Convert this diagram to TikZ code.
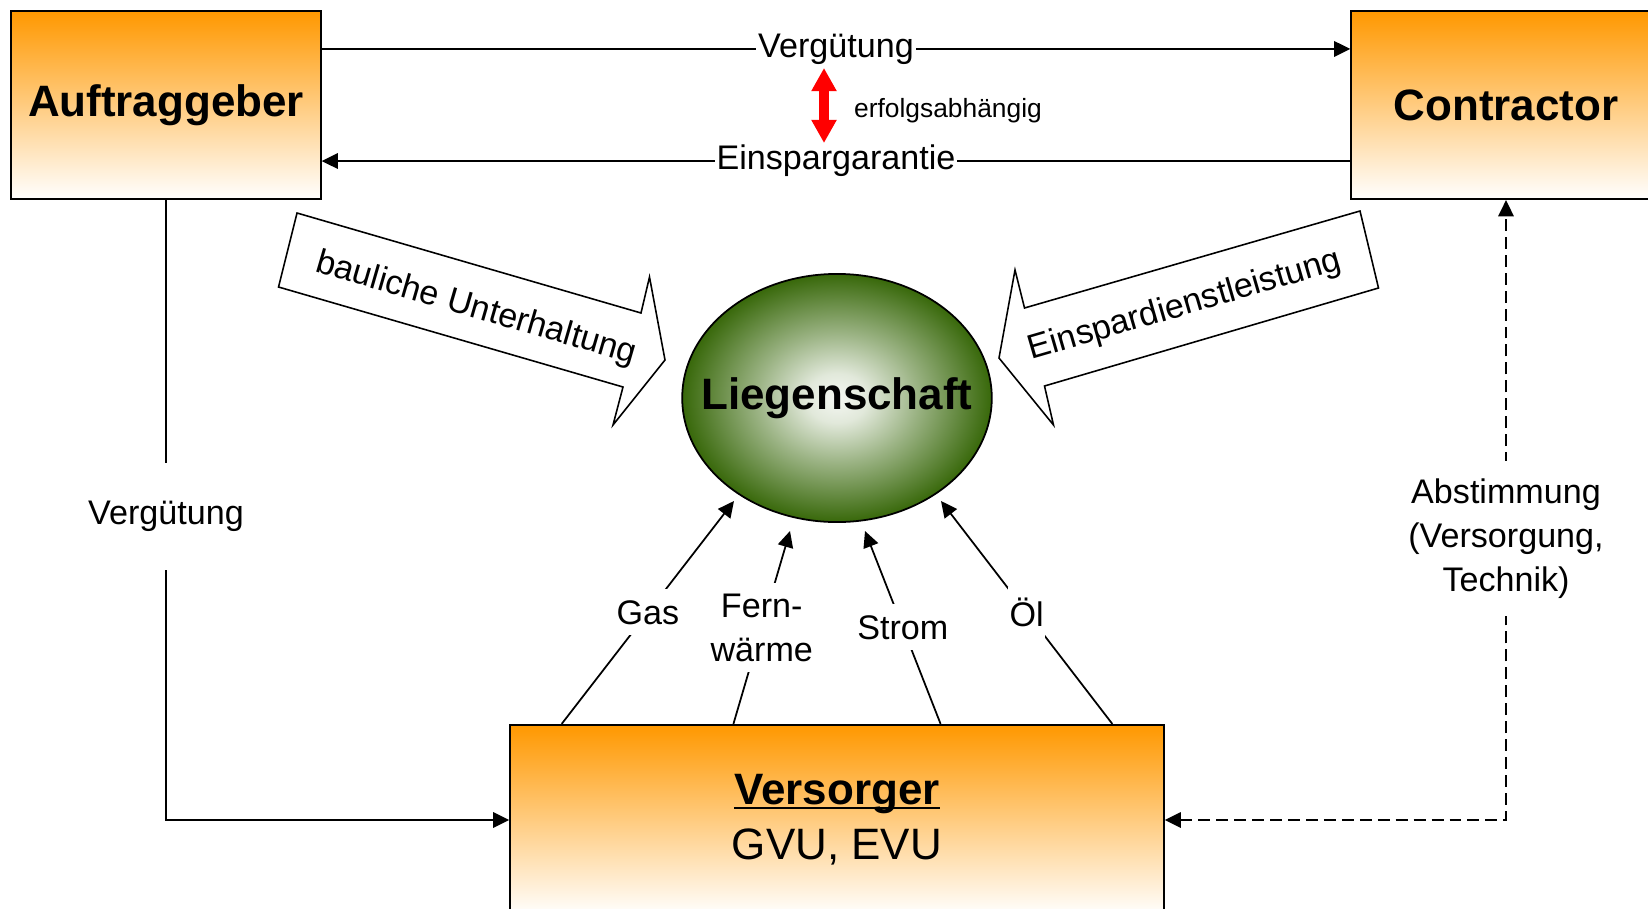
\documentclass[tikz,border=0pt]{standalone}
\usepackage{fontspec}
\setmainfont{Liberation Sans}
\usetikzlibrary{arrows.meta, calc, shapes.geometric}

\definecolor{boxorange}{RGB}{255,152,0}
\definecolor{liegreen}{RGB}{56,104,10}

\pgfdeclareradialshading{liegshade}{\pgfpoint{0bp}{0bp}}{color(0bp)=(white!95!liegreen);
    color(5bp)=(white!85!liegreen); color(13bp)=(white!50!liegreen); color(25bp)=(liegreen); color(50bp)=(liegreen)}

\newcommand{\ulword}[1]{\setbox0\hbox{#1}\rlap{\rule[-1.3pt]{\wd0}{0.8pt}}\box0}

\begin{document}
\begin{tikzpicture}[x=0.01cm, y=-0.01cm,
    party/.style={draw, line width=0.6pt, top color=boxorange, bottom color=white,
        minimum width=3.09cm, minimum height=1.88cm, font=\fontsize{12.5pt}{15.6pt}\selectfont\bfseries},
    flow/.style={-{Triangle[length=4.6pt, width=4.4pt]}, line width=0.5pt},
    gaplabel/.style={fill=white, inner xsep=0.5pt, inner ysep=3.1pt, align=center,
        font=\fontsize{9.7pt}{12.5pt}\selectfont},
    bigarrow/.style={draw, line width=0.45pt, fill=white, line join=miter},
    ]
    \useasboundingbox (0,0) rectangle (1648,909);
    \clip (0,0) rectangle (1648,909);

    % Parties
    \node[party] (auf) at (166,105) {Auftraggeber};
    \node[party] (con) at (1506,105) {Contractor};
    \node[party, minimum width=6.53cm, minimum height=1.9cm, align=center] (vers) at (837,820)
        {\ulword{Versorger}\\{\mdseries GVU, EVU}};

    % Property
    \node[ellipse, draw, line width=0.5pt, shading=liegshade,
        minimum width=3.094cm, minimum height=2.48cm, inner sep=0pt,
        font=\fontsize{12.5pt}{15pt}\selectfont\bfseries] (lieg) at (837,398) {\makebox[0pt]{Liegenschaft}};

    % Contract arrows
    \draw[flow] ([yshift=0.56cm]auf.east) -- node[gaplabel, inner ysep=0pt] (vtop) {Vergütung} ([yshift=0.56cm]con.west);
    \draw[flow] ([yshift=-0.56cm]con.west) -- node[gaplabel, inner ysep=0pt] (ebot) {Einspargarantie} ([yshift=-0.56cm]auf.east);

    % Success dependent
    \coordinate (ru) at (824,68);
    \coordinate (rd) at (824,143);
    \draw[{Triangle[length=6.6pt, width=6.8pt]}-{Triangle[length=6.6pt, width=6.8pt]}, red, line width=2.8pt] (ru) -- (rd);
    \node[font=\fontsize{7.5pt}{9pt}\selectfont] (erf) at (948,111) {erfolgsabhängig};

    % Block arrows
    \draw[bigarrow] (297,213) -- (641,313) -- (649.5,277) -- (665,360) -- (613,425) -- (623,387) -- (278.5,287) -- cycle;
    \node[rotate=-16.2, font=\fontsize{9.7pt}{12pt}\selectfont] (bau) at (476,309) {bauliche Unterhaltung};
    \draw[bigarrow] (1360,211) -- (1378.5,288) -- (1044.5,386) -- (1053.5,425) -- (999,358) -- (1015,270) -- (1024.5,308) -- cycle;
    \node[rotate=16.2, font=\fontsize{9.7pt}{12pt}\selectfont] (esd) at (1185,306) {Einspardienstleistung};

    % Payment to supplier
    \draw[flow] (auf.south) |- node[gaplabel, pos=0.255, inner ysep=10.8pt] (vlinks) {Vergütung} (vers.west);

    % Coordination
    \draw[{Triangle[length=4.6pt, width=4.4pt]}-{Triangle[length=4.6pt, width=4.4pt]}, line width=0.5pt,
        dash pattern=on 3.4pt off 1.7pt] (vers.east) -| node[gaplabel, pos=0.727, inner ysep=5pt] (abst)
        {Abstimmung\\(Versorgung,\\Technik)} (con.south);

    % Supply
    \coordinate (tgas) at (734,501);
    \coordinate (tfern) at (790,531);
    \coordinate (tstrom) at (865,531);
    \coordinate (toel) at (941,501);
    \draw[flow] ($(vers.north west)!0.08!(vers.north east)$) -- node[gaplabel] (lgas) {Gas} (tgas);
    \draw[flow] ($(vers.north west)!0.342!(vers.north east)$) -- node[gaplabel] (lfern) {Fern-\\wärme} (tfern);
    \draw[flow] ($(vers.north west)!0.658!(vers.north east)$) -- node[gaplabel] (lstrom) {Strom} (tstrom);
    \draw[flow] ($(vers.north west)!0.92!(vers.north east)$) -- node[gaplabel] (loel) {Öl} (toel);
\end{tikzpicture}
\end{document}
